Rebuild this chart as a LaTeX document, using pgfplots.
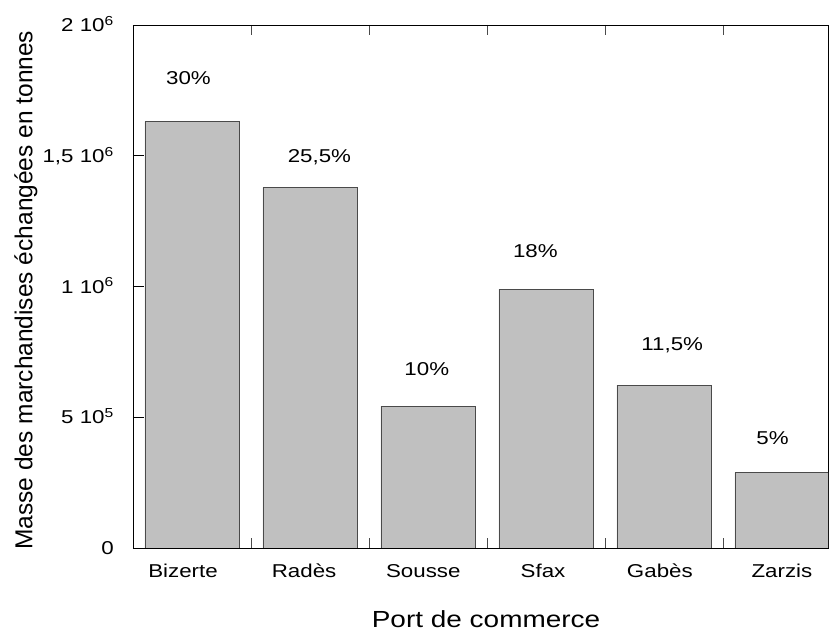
\documentclass[border=0pt]{standalone}
\usepackage{fontspec}
\setmainfont{Liberation Sans}[FakeStretch=1.2]
\newfontfamily\ylabfont{Liberation Sans}
\usepackage{pgfplots}
\pgfplotsset{compat=1.18}
\definecolor{barfill}{HTML}{C0C0C0}
\definecolor{baredge}{HTML}{4A4A4A}
\newcommand{\tfont}{\fontsize{18.6}{20}\selectfont}

\begin{document}
\begin{tikzpicture}
\begin{axis}[
    scale only axis,
    width=695pt, height=523pt,
    xmin=-0.5, xmax=5.39,
    ymin=0, ymax=2000000,
    axis line style={black, line width=0.8pt},
    tick align=inside,
    % label positions, slightly off the bar centres as in the original
    xtick={-0.076,0.95,1.96,2.975,3.965,5},
    xticklabels={Bizerte, Radès, Sousse, Sfax, Gabès, Zarzis},
    major x tick style={draw=none},
    minor xtick={0.5,1.5,2.5,3.5,4.5},
    minor tick length=10pt,
    minor x tick style={baredge, line width=0.8pt},
    xtick pos=both,
    ytick={0,500000,1000000,1500000,2000000},
    yticklabels={0, 5 10\textsuperscript{5}, 1 10\textsuperscript{6}, {1,5 10\textsuperscript{6}}, 2 10\textsuperscript{6}},
    ytick pos=left,
    major tick length=11pt,
    major y tick style={black, line width=0.8pt},
    scaled y ticks=false,
    xticklabel style={font=\tfont, anchor=base, inner sep=0pt, yshift=-30pt},
    yticklabel style={font=\tfont, anchor=base east, inner sep=0pt, xshift=-19pt, yshift=-6.7pt},
    xlabel={Port de commerce},
    xlabel style={font=\fontsize{23.3}{25}\selectfont, at={(axis description cs:0.508,0)}, anchor=base, inner sep=0pt, yshift=-79.7pt},
    ylabel={Masse des marchandises échangées en tonnes},
    ylabel style={font=\ylabfont\fontsize{24.5}{26}\selectfont, at={(axis description cs:-0.171,0.493)}, anchor=north, inner sep=0pt, rotate=0},
]
\addplot[ybar, bar width=94pt, fill=barfill, draw=baredge, line width=0.8pt]
coordinates {(0,1630000) (1,1378000) (2,543000) (3,990000) (4,623000) (5,288000)};

\node[font=\tfont] at (axis cs:-0.03,1797000) {30\%};
\node[font=\tfont] at (axis cs:1.08,1495000) {25,5\%};
\node[font=\tfont] at (axis cs:1.99,685000) {10\%};
\node[font=\tfont] at (axis cs:2.91,1137000) {18\%};
\node[font=\tfont] at (axis cs:4.07,776000) {11,5\%};
\node[font=\tfont] at (axis cs:4.92,421000) {5\%};
\end{axis}
\path ([xshift=-133pt,yshift=-85pt]current axis.south west) rectangle ([xshift=1pt,yshift=25pt]current axis.north east);
\end{tikzpicture}
\end{document}
